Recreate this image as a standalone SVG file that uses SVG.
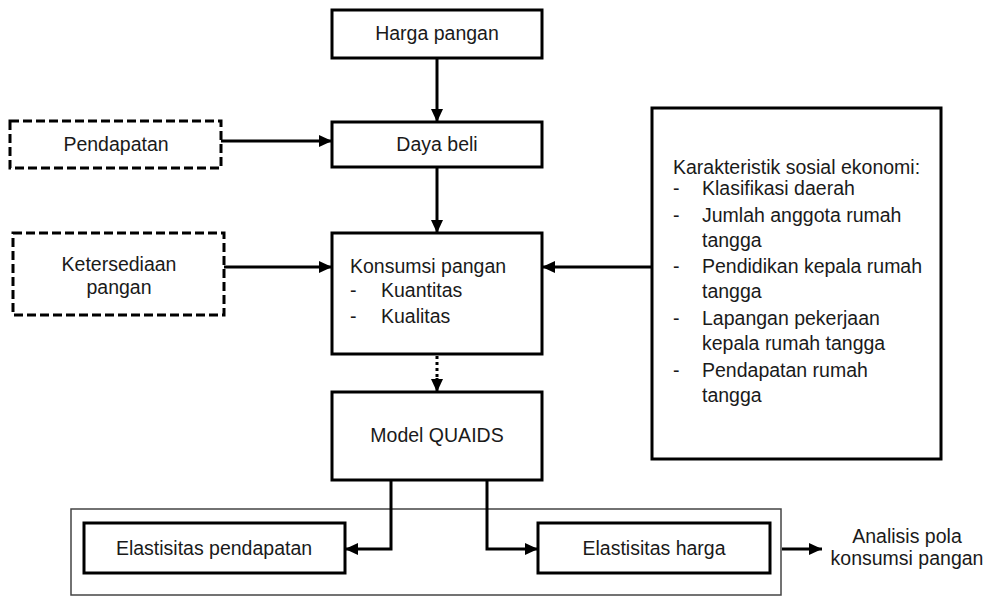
<svg xmlns="http://www.w3.org/2000/svg" width="985" height="597" viewBox="0 0 985 597">
<style>
  text { font-family: "Liberation Sans", Arial, Helvetica, sans-serif; font-size: 19.5px; fill: #1a1a1a; }
  .c { text-anchor: middle; }
  .box { fill: #fff; stroke: #000; stroke-width: 3; }
  .dash { fill: #fff; stroke: #000; stroke-width: 3; stroke-dasharray: 9 4; }
  .cont { fill: none; stroke: #444; stroke-width: 1.5; }
  .conn { fill: none; stroke: #000; stroke-width: 3; }
  .dot { fill: none; stroke: #000; stroke-width: 3; stroke-dasharray: 3 3; }
</style>
<defs>
  <marker id="ah" viewBox="0 0 13 12" refX="13" refY="6" markerWidth="13" markerHeight="12" markerUnits="userSpaceOnUse" orient="auto">
    <path d="M0,0 L13,6 L0,12 z" fill="#000"/>
  </marker>
</defs>
<rect width="985" height="597" fill="#fff"/>

<g id="container">
  <rect class="cont" x="71" y="509" width="710" height="86"/>
</g>

<g id="connectors">
  <line class="conn" x1="437" y1="58" x2="437" y2="122" marker-end="url(#ah)"/>
  <line class="conn" x1="221" y1="141" x2="332" y2="141" marker-end="url(#ah)"/>
  <line class="conn" x1="437" y1="167" x2="437" y2="233" marker-end="url(#ah)"/>
  <line class="conn" x1="224" y1="267" x2="332" y2="267" marker-end="url(#ah)"/>
  <line class="conn" x1="652" y1="267" x2="542" y2="267" marker-end="url(#ah)"/>
  <line class="dot" x1="437" y1="356" x2="437" y2="380"/>
  <line class="conn" x1="437" y1="378" x2="437" y2="392" stroke="none" marker-end="url(#ah)"/>
  <polyline class="conn" points="391,480 391,549 345,549" marker-end="url(#ah)"/>
  <polyline class="conn" points="487,480 487,549 538,549" marker-end="url(#ah)"/>
  <line class="conn" x1="782" y1="549" x2="822" y2="549" marker-end="url(#ah)"/>
</g>

<g id="harga-pangan">
  <rect class="box" x="332" y="10" width="210" height="48"/>
  <text class="c" x="437" y="40">Harga pangan</text>
</g>

<g id="pendapatan">
  <rect class="dash" x="10" y="121" width="211" height="47"/>
  <text class="c" x="116" y="151">Pendapatan</text>
</g>

<g id="daya-beli">
  <rect class="box" x="332" y="122" width="210" height="45"/>
  <text class="c" x="437" y="151">Daya beli</text>
</g>

<g id="ketersediaan">
  <rect class="dash" x="13" y="233" width="211" height="82"/>
  <text class="c" x="119" y="271">Ketersediaan</text>
  <text class="c" x="119" y="294">pangan</text>
</g>

<g id="konsumsi">
  <rect class="box" x="332" y="233" width="210" height="121"/>
  <text x="350" y="273">Konsumsi pangan</text>
  <text x="350" y="297">-</text>
  <text x="381" y="297">Kuantitas</text>
  <text x="350" y="323">-</text>
  <text x="381" y="323">Kualitas</text>
</g>

<g id="karakteristik">
  <rect class="box" x="652" y="108" width="289" height="351"/>
  <text x="673" y="174">Karakteristik sosial ekonomi:</text>
  <text x="673" y="195">-</text>
  <text x="702" y="195">Klasifikasi daerah</text>
  <text x="673" y="222">-</text>
  <text x="702" y="222">Jumlah anggota rumah</text>
  <text x="702" y="247">tangga</text>
  <text x="673" y="273">-</text>
  <text x="702" y="273">Pendidikan kepala rumah</text>
  <text x="702" y="298">tangga</text>
  <text x="673" y="325">-</text>
  <text x="702" y="325">Lapangan pekerjaan</text>
  <text x="702" y="350">kepala rumah tangga</text>
  <text x="673" y="377">-</text>
  <text x="702" y="377">Pendapatan rumah</text>
  <text x="702" y="402">tangga</text>
</g>

<g id="model-quaids">
  <rect class="box" x="332" y="392" width="210" height="88"/>
  <text class="c" x="437" y="442">Model QUAIDS</text>
</g>

<g id="elastisitas-pendapatan">
  <rect class="box" x="84" y="523" width="261" height="50"/>
  <text class="c" x="214" y="555">Elastisitas pendapatan</text>
</g>

<g id="elastisitas-harga">
  <rect class="box" x="538" y="523" width="232" height="50"/>
  <text class="c" x="654" y="555">Elastisitas harga</text>
</g>

<g id="analisis">
  <text class="c" x="907" y="543">Analisis pola</text>
  <text class="c" x="907" y="565">konsumsi pangan</text>
</g>
</svg>
